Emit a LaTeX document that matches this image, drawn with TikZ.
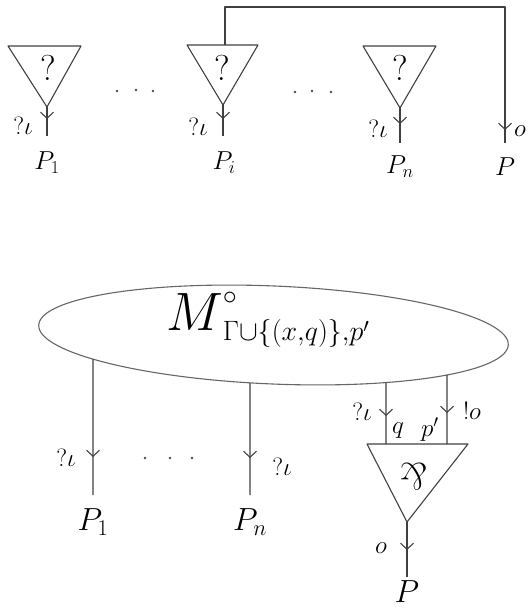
\RequirePackage{fix-cm}
\documentclass[tikz,border=0pt]{standalone}
\usepackage{graphicx}
\usetikzlibrary{arrows.meta,decorations.markings,intersections}
\tikzset{
  ln/.style={draw=black!75, line width=1.1pt, line join=round},
  barb/.style={postaction={decorate},decoration={markings,
      mark=at position #1 with {\arrow[black!75]{Straight Barb[length=6pt,width=13pt,line width=1.1pt]}}}},
  wire/.style={ln, barb=#1},
  qm/.style={inner sep=0pt, font=\fontsize{36}{40}\selectfont},
  lab/.style={inner sep=0pt, font=\fontsize{25}{29}\selectfont},
  plab/.style={inner sep=0pt, font=\fontsize{26}{30}\selectfont},
  bplab/.style={inner sep=0pt, font=\fontsize{32}{36}\selectfont},
  dot/.style={circle, fill=black!70, inner sep=0pt, minimum size=2.6pt},
}
\begin{document}
\begin{tikzpicture}[x=1pt,y=-1pt]
\useasboundingbox (0,0) rectangle (527,612);

% ---------- top row ----------
% triangle 1
\coordinate (t1l) at (8,46); \coordinate (t1r) at (81,46); \coordinate (t1a) at (47,107);
\coordinate (t1e) at (47,136);
\draw[ln] (t1l) -- (t1r) -- (t1a) -- cycle;
\node[qm] (q1) at (48,68) {?};
\draw[wire=-17pt] (t1a) -- (t1e);
\node[lab] (l1) at (23,126) {$?\iota$};
\node[plab] (p1) at (47,163) {$P_1$};

% dots
\node[dot] (d1) at (117,91) {}; \node[dot] (d2) at (136,90) {}; \node[dot] (d3) at (153,91) {};

% triangle 2
\coordinate (t2l) at (187,45); \coordinate (t2r) at (258,45); \coordinate (t2a) at (223,105);
\coordinate (t2e) at (223,136);
\draw[ln] (t2l) -- (t2r) -- (t2a) -- cycle;
\node[qm] (q2) at (222,68) {?};
\draw[wire=-17pt] (t2a) -- (t2e);
\node[lab] (l2) at (198,127) {$?\iota$};
\node[plab] (pi) at (224,163) {$P_i$};

% dots
\node[dot] (d4) at (295,92) {}; \node[dot] (d5) at (312,91) {}; \node[dot] (d6) at (331,92) {};

% triangle 3
\coordinate (t3l) at (363,46); \coordinate (t3r) at (436,46); \coordinate (t3a) at (400,108);
\coordinate (t3e) at (400,143);
\draw[ln] (t3l) -- (t3r) -- (t3a) -- cycle;
\node[qm] (q3) at (400,68) {?};
\draw[wire=-19pt] (t3a) -- (t3e);
\node[lab] (l3) at (378,129) {$?\iota$};
\node[plab] (pn) at (400,167) {$P_n$};

% loop wire
\coordinate (ls) at (225,45); \coordinate (lc1) at (225,7); \coordinate (lc2) at (505,7);
\coordinate (le) at (505,143);
\draw[wire=-13pt] (ls) -- (lc1) -- (lc2) -- (le);
\node[lab] (lo) at (520,131) {$o$};
\node[plab] (pp) at (505,167) {$P$};

% ---------- bottom ----------
\draw[draw=black!60, line width=1.1pt, name path=ell] (273.5,335) ellipse [x radius=235, y radius=49, rotate=-2.4];
\node[inner sep=0pt, font=\fontsize{40}{44}\selectfont] (M) at (268,320)
  {$\scalebox{1.35}{$M$}^{\circ}_{\Gamma\cup\{(x,q)\},p'}$};

\path[name path=v1] (93,340) -- (93,500);
\path[name path=v2] (250,340) -- (250,500);
\path[name path=v3] (386,340) -- (386,500);
\path[name path=v4] (447,340) -- (447,500);
\path[name intersections={of=ell and v1, by={e1}}];
\path[name intersections={of=ell and v2, by={e2}}];
\path[name intersections={of=ell and v3, by={e3}}];
\path[name intersections={of=ell and v4, by={e4}}];

\coordinate (b1) at (93,495);
\coordinate (b2) at (250,495);
\draw[wire=-38pt] (e1) -- (b1);
\draw[wire=-37pt] (e2) -- (b2);
\node[lab] (bl1) at (66,458) {$?\iota$};
\node[lab] (bl2) at (282,467) {$?\iota$};
\node[bplab] (bp1) at (93,522) {$P_1$};
\node[bplab] (bpn) at (250,522) {$P_n$};

\node[dot] (d7) at (145,458) {}; \node[dot] (d8) at (170,458) {}; \node[dot] (d9) at (192,458) {};

% par triangle
\coordinate (pl) at (367,444); \coordinate (pr) at (468,444); \coordinate (pa) at (407,522);
\coordinate (pq) at (386,444); \coordinate (ppr) at (447,444);
\coordinate (pe) at (407,577);
\draw[ln] (pl) -- (pr) -- (pa) -- cycle;
\node[inner sep=0pt, font=\fontsize{38}{42}\selectfont] (par) at (414,477) {\rotatebox[origin=c]{180}{\&}};
\draw[wire=-28pt] (e3) -- (pq);
\draw[wire=-31pt] (e4) -- (ppr);
\draw[wire=-27pt] (pa) -- (pe);
\node[lab] (bl3) at (362,412) {$?\iota$};
\node[lab] (bq) at (398,431) {$q$};
\node[lab] (bpp) at (430,430) {$p'$};
\node[lab] (bo) at (472,411) {$!o$};
\node[lab] (bo2) at (381,548) {$o$};
\node[bplab] (bP) at (407,592) {$P$};
\end{tikzpicture}
\end{document}
